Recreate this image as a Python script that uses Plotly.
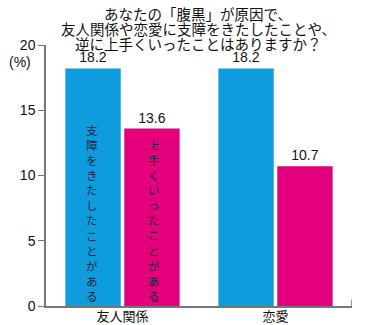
import plotly.graph_objects as go

categories = ["友人関係", "恋愛"]
series_names = ["支障をきたしたことがある", "上手くいったことがある"]
hindered = [18.2, 18.2]
improved = [13.6, 10.7]
series_colors = ["#0f9cdc", "#e2007d"]
y_ticks = [0, 5, 10, 15, 20]

title_lines = [
    "あなたの「腹黒」が原因で、",
    "友人関係や恋愛に支障をきたしたことや、",
    "逆に上手くいったことはありますか？",
]

NUM_FONT = "Liberation Sans Narrow, Arial Narrow, Liberation Sans, sans-serif"
JP_FONT = "Noto Sans CJK JP, sans-serif"

fig = go.Figure()
for name, vals, color in zip(series_names, [hindered, improved], series_colors):
    fig.add_trace(go.Bar(
        x=categories, y=vals, name=name,
        marker=dict(color=color, line=dict(width=0)),
        text=[f"{v:.1f}" for v in vals],
        textposition="outside",
        textfont=dict(family=NUM_FONT, size=14, color="#111"),
        cliponaxis=False,
    ))

# vertical series labels inside the first group's bars
for i, name in enumerate(series_names):
    fig.add_annotation(
        x=categories[0], y=0, xref="x", yref="y",
        xshift=(-31 if i == 0 else 31),
        text="<br>".join(list(name)),
        showarrow=False, yanchor="bottom", yshift=0,
        font=dict(family=JP_FONT, size=11.6, color="#1c2440"),
        align="center",
    )

# right-hand end tick of the category axis
fig.add_shape(type="line", xref="x", yref="paper",
              x0=1.5, x1=1.5, y0=0, y1=0.025,
              line=dict(color="#777", width=1.5))

# three-line heading, one annotation per line
for k, line in enumerate(title_lines):
    fig.add_annotation(
        text=line, xref="paper", yref="paper",
        x=0.497, y=1.0, yshift=32 - 15 * k,
        xanchor="center", yanchor="middle",
        showarrow=False, font=dict(family=JP_FONT, size=14.5, color="#111"),
    )
fig.add_annotation(
    text="(%)", xref="paper", yref="paper", x=0, y=1, xshift=-26, yshift=-17,
    xanchor="center", yanchor="middle", showarrow=False,
    font=dict(family=NUM_FONT, size=14, color="#111"),
)

fig.update_layout(
    width=380, height=325,
    margin=dict(l=46, r=28, t=45, b=19),
    paper_bgcolor="white", plot_bgcolor="white",
    showlegend=False,
    barmode="group", bargap=0.23, bargroupgap=0.06,
    xaxis=dict(
        type="category", range=[-0.5, 1.5], automargin=False,
        showline=True, linecolor="#777", linewidth=1.5,
        ticks="", showgrid=False, ticklabelstandoff=-2,
        tickfont=dict(family=JP_FONT, size=13, color="#111"),
    ),
    yaxis=dict(
        range=[0, 20], tickvals=y_ticks, automargin=False,
        showline=True, linecolor="#777", linewidth=1.5,
        ticks="outside", ticklen=6, tickcolor="#777", tickwidth=1,
        showgrid=False, zeroline=False,
        tickfont=dict(family=NUM_FONT, size=14, color="#111"),
    ),
)

fig.write_html("out.html")
